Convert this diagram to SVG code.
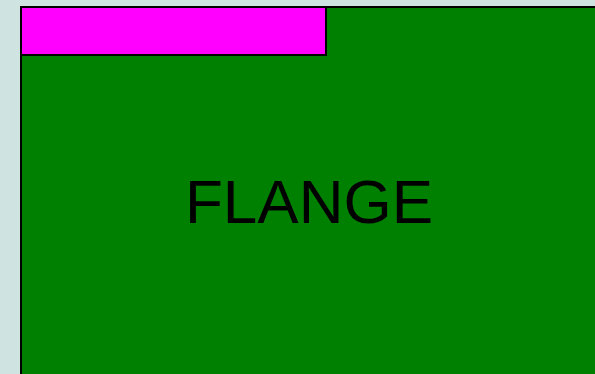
<svg xmlns="http://www.w3.org/2000/svg" width="595" height="374" viewBox="0 0 595 374">
<style>
.box{stroke:#000;stroke-width:2}
.lbl{font-family:"Liberation Sans",Arial,sans-serif;font-size:62px;fill:#000}
</style>
<rect x="0" y="0" width="595" height="374" fill="#cfe3e1"/>
<g id="flange">
<rect class="box" x="21" y="7" width="600" height="400" fill="#008000"/>
<text class="lbl" x="309" y="223" text-anchor="middle">FLANGE</text>
</g>
<g id="tab">
<rect class="box" x="21" y="7" width="305" height="48" fill="#ff00ff"/>
</g>
<g id="connectors"/>
</svg>
